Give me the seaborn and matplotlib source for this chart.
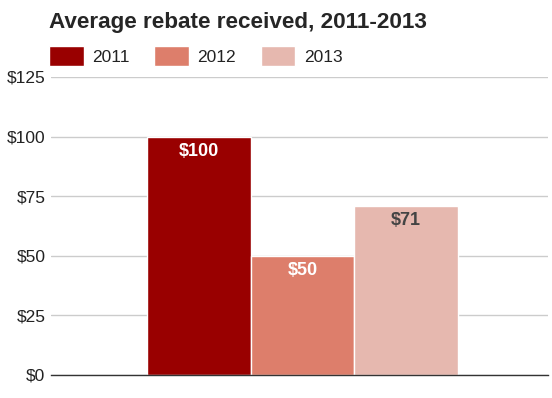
import pandas as pd
import matplotlib
matplotlib.use('Agg')
from matplotlib import pyplot as plt
from matplotlib.ticker import MultipleLocator, StrMethodFormatter
import seaborn as sns

years = ['2011', '2012', '2013']
rebate = [100, 50, 71]
colors = ['#990000', '#dd7e6b', '#e6b8af']
label_colors = ['white', 'white', '#444444']

df = pd.DataFrame({'group': ['all'] * 3, 'year': years, 'rebate': rebate})

sns.set_style('white')
plt.rcParams['font.family'] = ['Liberation Sans', 'DejaVu Sans']

fig = plt.figure(figsize=(5.52, 3.98), dpi=100)
ax = fig.add_axes([51 / 552, 23 / 398, 497 / 552, 298 / 398])

sns.barplot(data=df, x='group', y='rebate', hue='year', palette=colors,
            saturation=1, width=0.625, edgecolor='white', linewidth=1, ax=ax)

ax.set_ylim(0, 125)
ax.set_xlim(-0.506, 0.494)
ax.yaxis.set_major_locator(MultipleLocator(25))
ax.yaxis.set_major_formatter(StrMethodFormatter('${x:.0f}'))
ax.grid(axis='y', color='#cccccc', linewidth=1)
ax.set_axisbelow(True)
ax.set_xticks([])
ax.set_xlabel('')
ax.set_ylabel('')
ax.tick_params(axis='y', length=0, pad=4, labelsize=12.5, labelcolor='#222222')
for s in ['top', 'right', 'left']:
    ax.spines[s].set_visible(False)
ax.spines['bottom'].set_color('#333333')
ax.spines['bottom'].set_linewidth(1)

for cont, val, c in zip(ax.containers, rebate, label_colors):
    ax.bar_label(cont, labels=[f'${val}'], padding=-17, color=c,
                 fontsize=13, fontweight='bold')

handles, labels = ax.get_legend_handles_labels()
ax.get_legend().remove()
leg = fig.legend(handles, labels, loc='upper left',
                 bbox_to_anchor=(49 / 552, 1 - 46 / 398), ncol=3,
                 frameon=False, fontsize=12.5, handlelength=2.0,
                 handleheight=1.4, handletextpad=0.5, columnspacing=1.4,
                 borderaxespad=0, borderpad=0)
for t in leg.get_texts():
    t.set_color('#222222')

fig.text(49 / 552, 1 - 12 / 398, 'Average rebate received, 2011-2013',
         fontsize=16.2, fontweight='bold', va='top', ha='left')

fig.savefig('out.png', dpi=100)
